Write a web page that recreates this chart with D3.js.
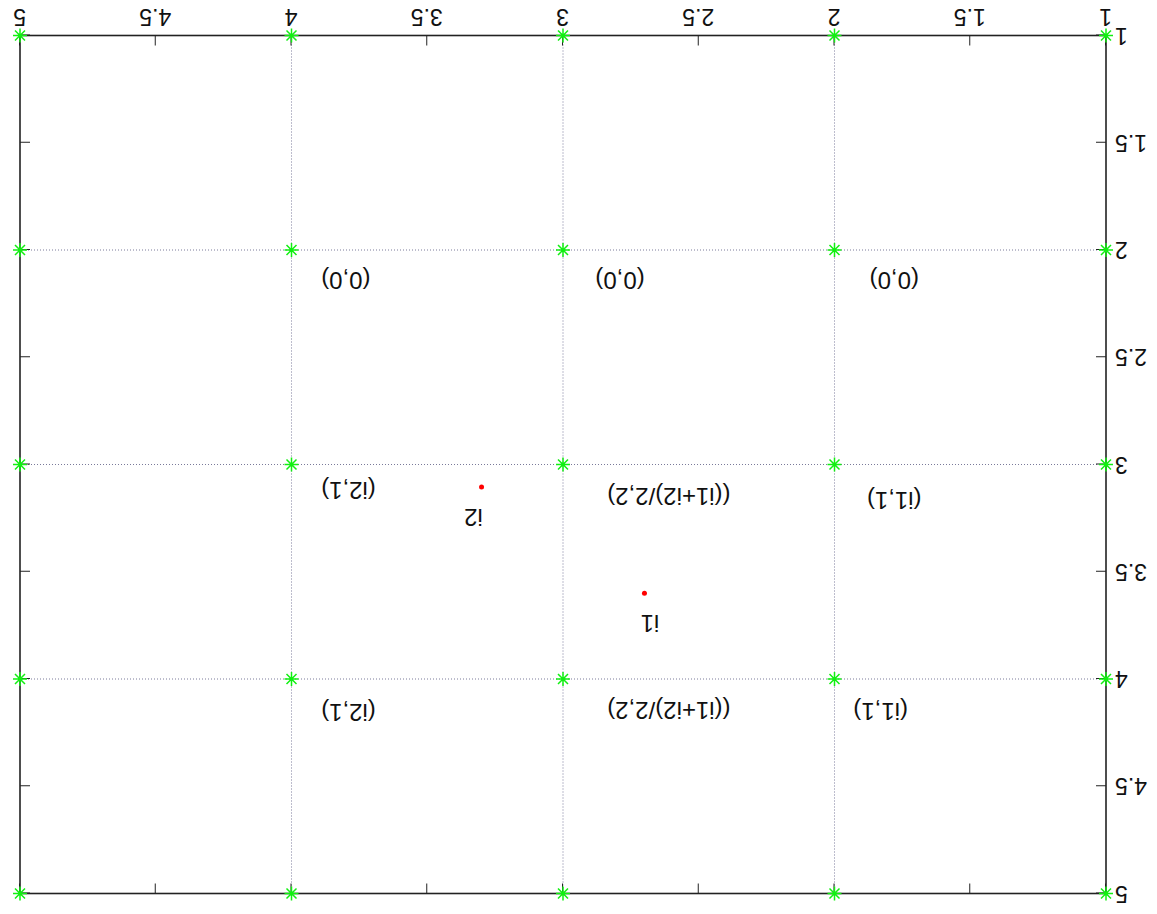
<!DOCTYPE html>
<html lang="en">
<head>
	<meta charset="utf-8">
	<title>Grid points</title>
	<script src="https://d3js.org/d3.v7.min.js"></script>
	<style>
		body {
		  margin: 0;
		  background-color: white;
		  font-family: "Liberation Sans", Arial, sans-serif;
		}
	</style>
</head>
<body>
<div id="vis"></div>

<script>
	// tick values on both axes
	const xTicks = [1, 1.5, 2, 2.5, 3, 3.5, 4, 4.5, 5];
	const yTicks = [1, 1.5, 2, 2.5, 3, 3.5, 4, 4.5, 5];

	// grid lines and the green star points on every crossing
	const gridX = [1, 2, 3, 4, 5];
	const gridY = [1, 2, 3, 4, 5];

	// red points
	const pointNames = ["i1", "i2"];
	const pointX = [2.70, 3.30];
	const pointY = [3.60, 3.105];
	const pointLabelX = [2.68, 3.33];
	const pointLabelY = [3.74, 3.245];

	// cell labels
	const cellText = ["(0,0)", "(0,0)", "(0,0)", "(i1,1)", "((i1+i2)/2,2)", "(i2,1)", "(i1,1)", "((i1+i2)/2,2)", "(i2,1)"];
	const cellX = [1.78, 2.79, 3.80, 1.78, 2.61, 3.79, 1.83, 2.61, 3.79];
	const cellY = [2.14, 2.14, 2.14, 3.17, 3.15, 3.12, 4.15, 4.145, 4.155];

	const width = 1157;
	const height = 914;
	const margin = { left: 51, right: 20, top: 20.5, bottom: 35.5 };

	const svg = d3.select('#vis')
	  .append('svg')
	  .attr('width', width)
	  .attr('height', height);

	// the whole plot is shown upside down
	const g = svg.append('g')
	  .attr('transform', `rotate(180, ${width / 2}, ${height / 2})`);

	const x = d3.scaleLinear().domain([1, 5]).range([margin.left, width - margin.right]);
	const y = d3.scaleLinear().domain([1, 5]).range([height - margin.bottom, margin.top]);

	// dotted grid
	g.append('g')
	  .selectAll('line')
	  .data(gridX.slice(1, -1))
	  .enter()
	  .append('line')
	  .attr('x1', d => x(d)).attr('x2', d => x(d))
	  .attr('y1', y(1)).attr('y2', y(5))
	  .attr('stroke', '#7a7a9a')
	  .attr('stroke-width', 1)
	  .attr('stroke-dasharray', '1,2');

	g.append('g')
	  .selectAll('line')
	  .data(gridY.slice(1, -1))
	  .enter()
	  .append('line')
	  .attr('x1', x(1)).attr('x2', x(5))
	  .attr('y1', d => y(d)).attr('y2', d => y(d))
	  .attr('stroke', '#7a7a9a')
	  .attr('stroke-width', 1)
	  .attr('stroke-dasharray', '1,2');

	// axes, ticks point inward and are mirrored
	const fmt = d3.format('~g');
	const styleAxis = sel => {
	  sel.select('.domain').remove();
	  sel.selectAll('.tick line').attr('stroke', '#222').attr('stroke-width', 1);
	  sel.selectAll('.tick text')
	    .attr('fill', '#111')
	    .style('font-family', '"Liberation Sans", Arial, sans-serif')
	    .style('font-size', '23px');
	};

	g.append('g')
	  .attr('transform', `translate(0,${y(1)})`)
	  .call(d3.axisBottom(x).tickValues(xTicks).tickFormat(fmt).tickSize(-10).tickSizeOuter(0).tickPadding(10))
	  .call(styleAxis);

	g.append('g')
	  .attr('transform', `translate(${x(1)},0)`)
	  .call(d3.axisLeft(y).tickValues(yTicks).tickFormat(fmt).tickSize(-10).tickSizeOuter(0).tickPadding(9))
	  .call(styleAxis);

	g.append('g')
	  .attr('transform', `translate(0,${y(5)})`)
	  .call(d3.axisTop(x).tickValues(xTicks).tickFormat('').tickSize(-10).tickSizeOuter(0))
	  .call(styleAxis);

	g.append('g')
	  .attr('transform', `translate(${x(5)},0)`)
	  .call(d3.axisRight(y).tickValues(yTicks).tickFormat('').tickSize(-10).tickSizeOuter(0))
	  .call(styleAxis);

	// border
	g.append('rect')
	  .attr('x', x(1))
	  .attr('y', y(5))
	  .attr('width', x(5) - x(1))
	  .attr('height', y(1) - y(5))
	  .attr('fill', 'none')
	  .attr('stroke', '#222')
	  .attr('stroke-width', 1.6);

	// star points on all grid crossings
	const crossings = gridY.flatMap(b => gridX.map(a => ({ a, b })));
	const starPath = 'M-7,0H7M0,-7V7M-5,-5L5,5M-5,5L5,-5';

	g.append('g')
	  .selectAll('path')
	  .data(crossings)
	  .enter()
	  .append('path')
	  .attr('transform', d => `translate(${x(d.a)},${y(d.b)})`)
	  .attr('d', starPath)
	  .attr('stroke', '#11f011')
	  .attr('stroke-width', 1.5)
	  .attr('fill', 'none');

	// red points and their names
	g.append('g')
	  .selectAll('circle')
	  .data(pointNames)
	  .enter()
	  .append('circle')
	  .attr('cx', (d, i) => x(pointX[i]))
	  .attr('cy', (d, i) => y(pointY[i]))
	  .attr('r', 2.5)
	  .attr('fill', 'red');

	g.append('g')
	  .selectAll('text')
	  .data(pointNames)
	  .enter()
	  .append('text')
	  .attr('x', (d, i) => x(pointLabelX[i]))
	  .attr('y', (d, i) => y(pointLabelY[i]))
	  .attr('text-anchor', 'middle')
	  .attr('dominant-baseline', 'central')
	  .style('font-size', '24px')
	  .attr('fill', '#111')
	  .text(d => d);

	// cell labels
	g.append('g')
	  .selectAll('text')
	  .data(cellText)
	  .enter()
	  .append('text')
	  .attr('x', (d, i) => x(cellX[i]))
	  .attr('y', (d, i) => y(cellY[i]))
	  .attr('text-anchor', 'middle')
	  .attr('dominant-baseline', 'central')
	  .style('font-size', '24px')
	  .attr('fill', '#111')
	  .text(d => d);
</script>
</body>
</html>
